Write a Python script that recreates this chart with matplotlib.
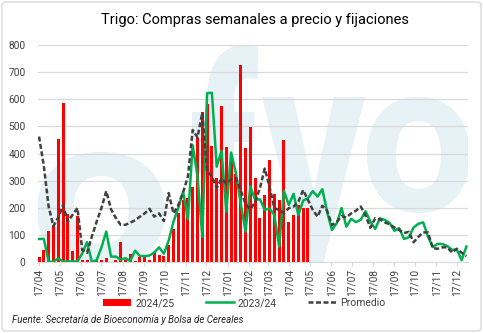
import numpy as np
import pandas as pd
import matplotlib
matplotlib.use("Agg")
import matplotlib.pyplot as plt
import matplotlib.patches as patch
from matplotlib.textpath import TextPath
from matplotlib.font_manager import FontProperties
from matplotlib.transforms import Affine2D

plt.rcParams['font.family'] = ['Roboto', 'DejaVu Sans']

# datos semanales (miles de t), desde 17/04/2024
inicio = '2024-04-17'
compras_2425 = [20, 45, 115, 135, 455, 585, 178, 42, 170, 8,
                8, 0, 8, 8, 14, 0, 10, 76, 8, 30,
                6, 18, 22, 10, 35, 28, 22, 65, 122, 181,
                228, 237, 278, 457, 554, 581, 430, 312, 574, 425,
                392, 325, 725, 422, 499, 312, 163, 247, 378, 252,
                230, 452, 148, 174, 212, 199, 199]
compras_2324 = [86, 86, 2, 2, 15, 3, 3, 3, 3, 33,
                74, 2, 8, 55, 113, 21, 21, 10, 15, 5,
                43, 23, 23, 25, 36, 55, 32, 80, 150, 200,
                260, 159, 431, 316, 94, 623, 624, 352, 410, 187,
                404, 328, 217, 113, 279, 230, 232, 193, 198, 174,
                58, 263, 211, 252, 174, 227, 236, 262, 242, 269,
                185, 119, 144, 200, 131, 160, 148, 157, 188, 150,
                123, 162, 156, 145, 116, 126, 86, 92, 128, 142,
                147, 94, 56, 68, 67, 60, 46, 47, 8, 58]
promedio = [463, 355, 205, 133, 165, 210, 150, 175, 200, 45,
            35, 95, 150, 200, 262, 195, 163, 138, 138, 146,
            155, 168, 180, 197, 168, 180, 152, 255, 180, 210,
            258, 315, 487, 460, 550, 335, 316, 274, 308, 290,
            305, 310, 265, 215, 195, 221, 273, 345, 279, 199,
            193, 181, 199, 205, 223, 266, 230, 193, 168, 208,
            190, 137, 148, 170, 165, 180, 190, 205, 172, 127,
            162, 158, 147, 140, 128, 119, 108, 112, 74, 94,
            110, 110, 52, 50, 55, 55, 36, 50, 35, 23]

semanas = pd.date_range(inicio, periods=len(compras_2324), freq='7D')
meses = pd.date_range(inicio, '2025-12-17', freq=pd.DateOffset(months=1))

W, H = 483, 333
fig = plt.figure(figsize=(W / 100, H / 100), dpi=100)
ax = fig.add_axes([38 / W, 1 - 262.3 / H, 430 / W, 217.3 / H])

# marca de agua (logo muy claro de fondo)
col_marca = '#e6f2f6'
fuente_marca = FontProperties(family='Roboto', weight='bold')


def marca(letra, x0, x1, y0, y1):
    tp = TextPath((0, 0), letra, size=100, prop=fuente_marca)
    e = tp.get_extents()
    tr = Affine2D().translate(-e.x0, -e.y0).scale((x1 - x0) / e.width / W, (y1 - y0) / e.height / H)
    tr = tr.translate(x0 / W, 1 - y1 / H)
    ax.add_patch(patch.PathPatch(tp, transform=tr + fig.transFigure, fc=col_marca, ec='none', zorder=0))


marca('o', 37, 165, 152, 268)
marca('f', 192, 258, 45, 265)
marca('y', 262, 365, 97, 310)
marca('o', 367, 470, 97, 213)

barras = ax.bar(semanas[:len(compras_2425)], compras_2425, width=4.4, color='#ff0000', zorder=2, label='2024/25')
l1, = ax.plot(semanas, compras_2324, color='#00b050', lw=1.8, zorder=3, label='2023/24')
l2, = ax.plot(semanas, promedio, color='#404040', lw=1.8, dashes=(2, 1), zorder=4, label='Promedio')

ax.set_ylim(0, 800)
ax.set_yticks(np.arange(0, 801, 100))
ax.set_xlim(semanas[0] - pd.Timedelta(days=1.5), semanas[-1] + pd.Timedelta(days=2.3))
ax.set_xticks(meses)
ax.set_xticklabels([d.strftime('%d/%m') for d in meses], rotation=90)

ax.set_axisbelow(True)
ax.grid(axis='y', color='#d9d9d9', lw=0.9)
for s in ['top', 'right', 'left']:
    ax.spines[s].set_visible(False)
ax.spines['bottom'].set_color('#d9d9d9')
ax.tick_params(axis='y', length=0, pad=9, labelsize=7.3, labelcolor='#404040')
ax.tick_params(axis='x', length=3, color='#d9d9d9', pad=2, labelsize=7.3, labelcolor='#404040')

fig.text(0.528, 0.94, 'Trigo: Compras semanales a precio y fijaciones', ha='center', va='center',
         fontsize=10.5, color='black')

fig.legend(handles=[barras, l1, l2], loc='center', bbox_to_anchor=(0.506, 0.09), ncol=3, frameon=False,
           fontsize=7.5, handlelength=2.7, handleheight=0.75, columnspacing=3.0, handletextpad=0.4,
           labelcolor='#404040')

fig.text(0.025, 0.039, 'Fuente: Secretaría de Bioeconomía y Bolsa de Cereales', style='italic',
         fontsize=7, color='#262626', va='center')

fig.patches.append(patch.FancyBboxPatch((0.004, 0.006), 0.992, 0.988, boxstyle='round,pad=0,rounding_size=0.01',
                                        transform=fig.transFigure, fc='none', ec='#d9d9d9', lw=1))

fig.savefig('out.png', dpi=100)
